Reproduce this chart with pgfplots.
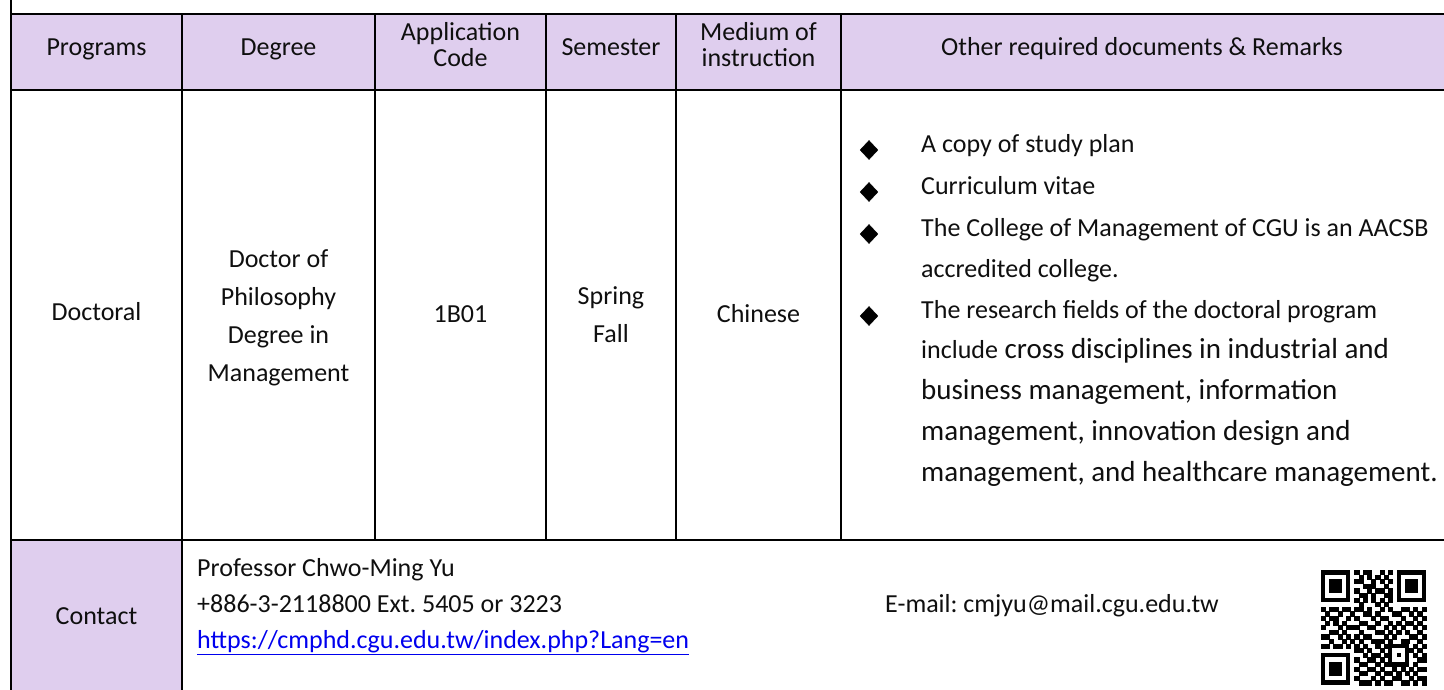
\documentclass[border=0pt]{standalone}
\usepackage{fontspec}
\setmainfont{Carlito}
\usepackage{pgfplots}
\pgfplotsset{compat=1.18}
\definecolor{hdr}{RGB}{223,206,238}
\definecolor{linkblue}{RGB}{0,0,238}
\definecolor{txt}{RGB}{15,15,15}
\newcommand{\fs}{\fontsize{26}{30}\selectfont}
\newcommand{\fl}{\fontsize{29}{34}\selectfont}
\frenchspacing
\begin{document}
\frenchspacing
\begin{tikzpicture}[every node/.style={text=txt}]
\begin{axis}[name=ax, x=1pt, y=1pt, y dir=reverse,
  xmin=0, xmax=1444, ymin=0, ymax=690,
  hide axis, scale only axis, clip=false]
% cell fills
\addplot[fill=hdr, draw=none] coordinates {(11,14) (1444,14) (1444,90) (11,90)};
\addplot[fill=hdr, draw=none] coordinates {(11,540) (182,540) (182,690) (11,690)};
% grid lines
\addplot[black, line width=2pt] coordinates {(11,0) (11,690)};
\addplot[black, line width=2pt] coordinates {(11,14) (1444,14)};
\addplot[black, line width=2pt] coordinates {(11,90) (1444,90)};
\addplot[black, line width=2pt] coordinates {(11,540) (1444,540)};
\addplot[black, line width=2pt] coordinates {(182,14) (182,690)};
\addplot[black, line width=2pt] coordinates {(375,14) (375,540)};
\addplot[black, line width=2pt] coordinates {(546,14) (546,540)};
\addplot[black, line width=2pt] coordinates {(676,14) (676,540)};
\addplot[black, line width=2pt] coordinates {(841,14) (841,540)};
% bullets
\addplot[only marks, mark=diamond*, mark size=9.5pt, mark options={xscale=1.25}, black] coordinates {(869,150) (869,192) (869,234) (869,316)};
% header texts
\node[anchor=mid, font=\fs] at (96.5,53) {Programs};
\node[anchor=mid, font=\fs] at (278.5,53) {Degree};
\node[anchor=mid, font=\fs] at (460.5,38) {Application};
\node[anchor=mid, font=\fs] at (460.5,64) {Code};
\node[anchor=mid, font=\fs] at (611,53) {Semester};
\node[anchor=mid, font=\fs] at (758.5,38) {Medium of};
\node[anchor=mid, font=\fs] at (758.5,64) {instruction};
\node[anchor=mid, font=\fs] at (1142,53) {Other required documents \& Remarks};
% body
\node[anchor=mid, font=\fs] at (96.5,318) {Doctoral};
\node[anchor=mid, font=\fs] at (278.5,265) {Doctor of};
\node[anchor=mid, font=\fs] at (278.5,303) {Philosophy};
\node[anchor=mid, font=\fs] at (278.5,341) {Degree in};
\node[anchor=mid, font=\fs] at (278.5,379) {Management};
\node[anchor=mid, font=\fs] at (460.5,320) {1B01};
\node[anchor=mid, font=\fs] at (611,302) {Spring};
\node[anchor=mid, font=\fs] at (611,340) {Fall};
\node[anchor=mid, font=\fs] at (758.5,320) {Chinese};
\node[anchor=mid west, inner sep=0pt, font=\fs] at (921,150) {A copy of study plan};
\node[anchor=mid west, inner sep=0pt, font=\fs] at (921,192) {Curriculum vitae};
\node[anchor=mid west, inner sep=0pt, font=\fs] at (921,234) {The College of Management of CGU is an AACSB};
\node[anchor=mid west, inner sep=0pt, font=\fs] at (921,275) {accredited college.};
\node[anchor=mid west, inner sep=0pt, font=\fs] at (921,316) {The research fields of the doctoral program};
\node[anchor=mid west, inner sep=0pt, font=\fl] at (921,356) {{\fs include} cross disciplines in industrial and};
\node[anchor=mid west, inner sep=0pt, font=\fl] at (921,397) {business management, information};
\node[anchor=mid west, inner sep=0pt, font=\fl] at (921,438) {management, innovation design and};
\node[anchor=mid west, inner sep=0pt, font=\fl] at (921,479) {management, and healthcare management.};
% contact
\node[anchor=mid, font=\fs] at (96.5,622) {Contact};
\node[anchor=mid west, inner sep=0pt, font=\fs] at (197,574) {Professor Chwo-Ming Yu};
\node[anchor=mid west, inner sep=0pt, font=\fs] at (197,610) {+886-3-2118800 Ext. 5405 or 3223};
\node[anchor=mid west, inner sep=0pt, font=\fs, text=linkblue] at (197,646) {\underline{https://cmphd.cgu.edu.tw/index.php?Lang=en}};
\node[anchor=mid west, inner sep=0pt, font=\fs] at (885,610) {E-mail: cmjyu@mail.cgu.edu.tw};
\coordinate (qr) at (1321,570);
\end{axis}
\begin{axis}[at={(qr)}, anchor=north west, x=4.2pt, y=4.6pt, y dir=reverse,
  xmin=-0.5, xmax=24.5, ymin=-0.5, ymax=24.5, hide axis, scale only axis, clip=false]
% finder patterns
\addplot[fill=black, draw=none] coordinates {(-0.5,-0.5) (6.5,-0.5) (6.5,6.5) (-0.5,6.5)};
\addplot[fill=white, draw=none] coordinates {(0.5,0.5) (5.5,0.5) (5.5,5.5) (0.5,5.5)};
\addplot[fill=black, draw=none] coordinates {(1.5,1.5) (4.5,1.5) (4.5,4.5) (1.5,4.5)};
\addplot[fill=black, draw=none] coordinates {(17.5,-0.5) (24.5,-0.5) (24.5,6.5) (17.5,6.5)};
\addplot[fill=white, draw=none] coordinates {(18.5,0.5) (23.5,0.5) (23.5,5.5) (18.5,5.5)};
\addplot[fill=black, draw=none] coordinates {(19.5,1.5) (22.5,1.5) (22.5,4.5) (19.5,4.5)};
\addplot[fill=black, draw=none] coordinates {(-0.5,17.5) (6.5,17.5) (6.5,24.5) (-0.5,24.5)};
\addplot[fill=white, draw=none] coordinates {(0.5,18.5) (5.5,18.5) (5.5,23.5) (0.5,23.5)};
\addplot[fill=black, draw=none] coordinates {(1.5,19.5) (4.5,19.5) (4.5,22.5) (1.5,22.5)};
% alignment pattern
\addplot[fill=black, draw=none] coordinates {(15.5,15.5) (20.5,15.5) (20.5,20.5) (15.5,20.5)};
\addplot[fill=white, draw=none] coordinates {(16.5,16.5) (19.5,16.5) (19.5,19.5) (16.5,19.5)};
\addplot[fill=black, draw=none] coordinates {(17.5,17.5) (18.5,17.5) (18.5,18.5) (17.5,18.5)};
% data modules
\addplot[only marks, mark=square*, mark size=2.1pt, black] coordinates {
(8,0) (10,0) (11,0) (14,0) (16,0)
(9,1) (11,1) (13,1) (15,1)
(8,2) (9,2) (12,2) (14,2) (16,2)
(10,3) (11,3) (12,3) (15,3)
(8,4) (11,4) (13,4) (14,4) (16,4)
(9,5) (10,5) (12,5) (15,5) (16,5)
(8,6) (10,6) (12,6) (14,6) (16,6)
(9,7) (13,7) (15,7)
(0,8) (2,8) (3,8) (5,8) (6,8) (8,8) (9,8) (11,8) (14,8) (16,8) (19,8) (20,8) (22,8) (24,8)
(1,9) (4,9) (7,9) (10,9) (11,9) (13,9) (17,9) (18,9) (21,9) (23,9)
(0,10) (2,10) (3,10) (6,10) (8,10) (12,10) (14,10) (15,10) (19,10) (22,10) (24,10)
(1,11) (3,11) (5,11) (9,11) (10,11) (13,11) (16,11) (18,11) (20,11) (21,11) (23,11)
(0,12) (4,12) (6,12) (7,12) (8,12) (11,12) (12,12) (15,12) (17,12) (19,12) (22,12) (24,12)
(2,13) (3,13) (5,13) (9,13) (13,13) (14,13) (16,13) (18,13) (20,13) (23,13)
(0,14) (1,14) (4,14) (6,14) (8,14) (10,14) (11,14) (15,14) (17,14) (21,14) (22,14) (24,14)
(2,15) (5,15) (7,15) (9,15) (12,15) (13,15) (14,15) (16,15) (19,15) (20,15) (23,15)
(0,16) (1,16) (3,16) (4,16) (6,16) (8,16) (10,16) (13,16) (15,16) (22,16) (24,16)
(8,17) (9,17) (11,17) (14,17) (21,17) (23,17)
(10,18) (12,18) (13,18) (15,18) (22,18) (24,18)
(8,19) (11,19) (12,19) (14,19) (23,19) (24,19)
(9,20) (10,20) (13,20) (15,20) (22,20)
(8,21) (11,21) (12,21) (14,21) (17,21) (19,21) (21,21) (23,21) (24,21)
(9,22) (10,22) (13,22) (15,22) (16,22) (18,22) (20,22) (22,22)
(8,23) (12,23) (14,23) (17,23) (18,23) (21,23) (23,23) (24,23)
(9,24) (10,24) (11,24) (13,24) (15,24) (16,24) (19,24) (20,24) (22,24) (24,24)
};
\end{axis}
\pgfresetboundingbox
\path (ax.south west) rectangle (ax.north east);
\end{tikzpicture}
\end{document}
